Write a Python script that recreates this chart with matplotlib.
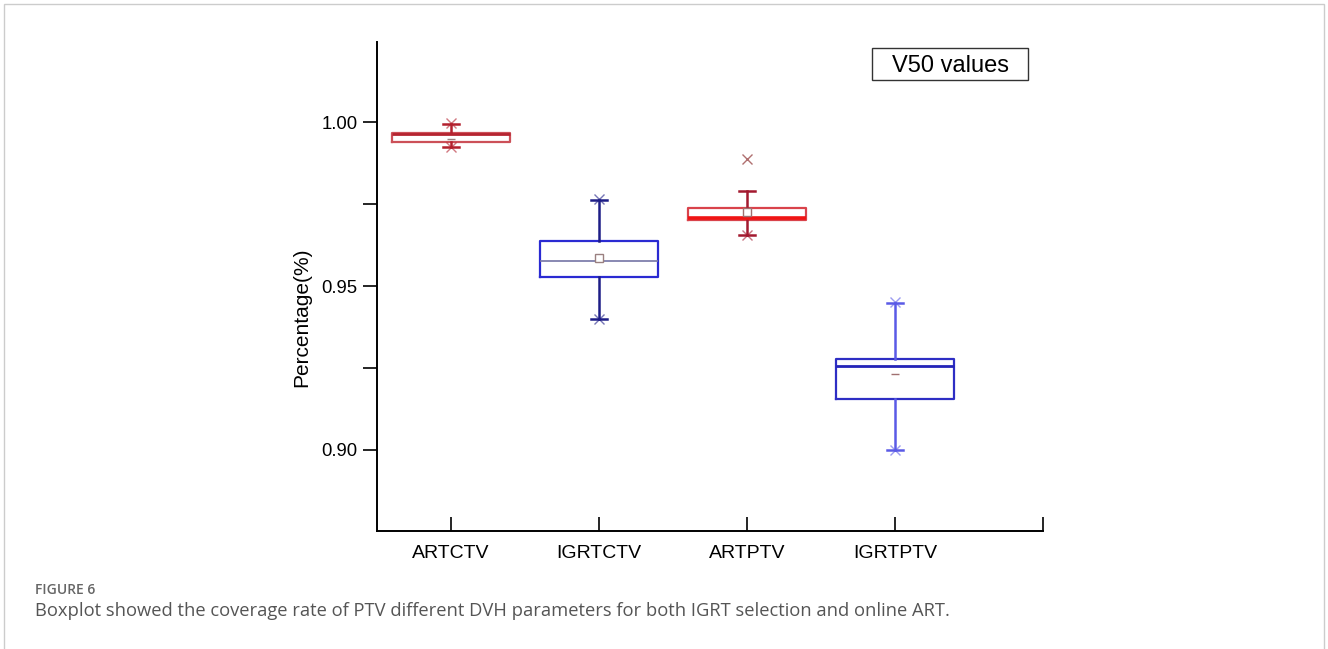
import matplotlib
matplotlib.use("Agg")
import matplotlib.pyplot as plt
from matplotlib.patches import Rectangle

# ---- data ----
categories = ["ARTCTV", "IGRTCTV", "ARTPTV", "IGRTPTV"]
q1 = [0.9939, 0.9528, 0.9700, 0.9155]
median = [0.9965, 0.9575, 0.9706, 0.9257]
q3 = [0.9966, 0.9637, 0.9738, 0.9277]
mean = [0.9948, 0.9586, 0.9725, 0.9233]
whisker_low = [0.9925, 0.9399, 0.9656, 0.8999]
whisker_high = [0.9994, 0.9762, 0.9791, 0.9449]
data_min = [0.9925, 0.9399, 0.9656, 0.8999]
data_max = [0.9996, 0.9764, 0.9887, 0.9451]
outliers = [[], [], [0.9887], []]
yticks = [0.90, 0.95, 1.00]
annotation = "V50 values"
ylabel = "Percentage(%)"
caption_head = "FIGURE 6"
caption = ("Boxplot showed the coverage rate of PTV different DVH parameters "
           "for both IGRT selection and online ART.")

# ---- styles ----
box_colors = ["#CC5058", "#2A2AD2", "#D9434B", "#2E2EC4"]
whisker_colors = ["#B3202D", "#1D1D86", "#A3192F", "#5A5AE6"]
median_colors = ["#B52430", "#7474A6", "#F01414", "#2424B8"]
median_widths = [2.0, 1.2, 2.6, 2.0]
mean_markers = ["_", "s", "s", "_"]

plt.rcParams["font.family"] = ["Liberation Sans", "DejaVu Sans"]

W, H = 1328, 649
fig = plt.figure(figsize=(W / 100, H / 100), dpi=100)
ax = fig.add_axes([377 / W, 1 - 531 / H, (1043 - 377) / W, (531 - 42) / H])

positions = list(range(1, len(categories) + 1))
for i, pos in enumerate(positions):
    stats = [dict(med=median[i], q1=q1[i], q3=q3[i], whislo=whisker_low[i],
                  whishi=whisker_high[i], mean=mean[i], fliers=outliers[i])]
    ax.bxp(stats, positions=[pos], widths=0.8, showmeans=True, showfliers=True,
           boxprops=dict(color=box_colors[i], linewidth=1.6),
           whiskerprops=dict(color=whisker_colors[i], linewidth=1.8),
           capprops=dict(color=whisker_colors[i], linewidth=1.8),
           capwidths=0.11,
           medianprops=dict(color=median_colors[i], linewidth=median_widths[i]),
           meanprops=dict(marker=mean_markers[i], markerfacecolor="white",
                          markeredgecolor="#9a8080" if i < 2 else "#a07070",
                          markersize=6, markeredgewidth=1.0),
           flierprops=dict(marker="x", markeredgecolor="#b07070",
                           markersize=7, markeredgewidth=1.0))
    # min / max markers
    ends = [data_min[i]] if outliers[i] else [data_min[i], data_max[i]]
    ax.plot([pos] * len(ends), ends, linestyle="none", marker="x", markersize=7,
            markeredgecolor=whisker_colors[i], markeredgewidth=1.0, alpha=0.6)

ax.set_xlim(0.5, 5.0)
ax.set_ylim(0.8753, 1.0244)
ax.set_xticks(positions + [5])
ax.set_xticklabels(categories + [""], fontsize=14)
ax.set_yticks(yticks)
ax.set_yticklabels([f"{v:.2f}" for v in yticks], fontsize=13.3)
ax.set_yticks([0.925, 0.975], minor=True)
ax.tick_params(axis="y", which="both", direction="out", length=10, width=1.2, pad=4)
ax.tick_params(axis="x", which="both", direction="in", length=10, width=1.2, pad=10)
for s in ["top", "right"]:
    ax.spines[s].set_visible(False)
for s in ["left", "bottom"]:
    ax.spines[s].set_linewidth(1.4)
ax.set_ylabel(ylabel, fontsize=15)
ax.yaxis.set_label_coords((311 - 377) / 666, (531 - 317) / 489)

ax.add_patch(Rectangle((0.7432, 0.9223), 0.2343, 0.0654, transform=ax.transAxes,
                       facecolor="white", edgecolor="#333333", linewidth=1.0,
                       clip_on=False))
ax.text(0.8604, 0.951, annotation, transform=ax.transAxes, fontsize=17,
        ha="center", va="center")

# frame and caption
fig.patches.append(Rectangle((4 / W, -0.05), 1320 / W, 1 - 4 / H + 0.05,
                             transform=fig.transFigure, fill=False,
                             edgecolor="#cccccc", linewidth=1.0))
fig.text(35 / W, 1 - 590 / H, caption_head, fontsize=10, color="#666666",
         family=["Open Sans", "DejaVu Sans"], weight="semibold", va="center")
fig.text(35 / W, 1 - 611 / H, caption, fontsize=13.2, color="#555555",
         family=["Open Sans", "DejaVu Sans"], va="center")

fig.savefig("out.png", dpi=100)
